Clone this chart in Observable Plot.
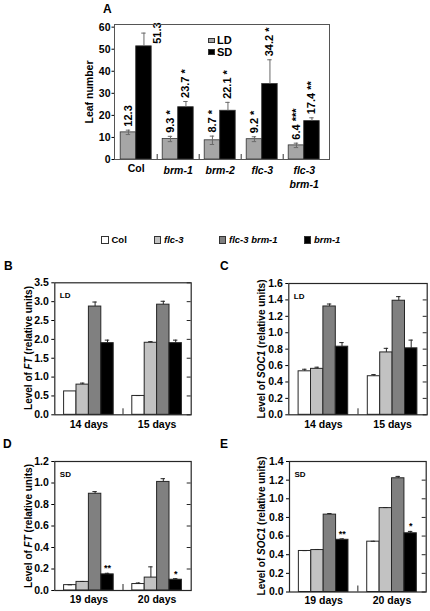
<!DOCTYPE html>
<html>
<head>
<meta charset="utf-8">
<script src="https://cdn.jsdelivr.net/npm/d3@7"></script>
<script src="https://cdn.jsdelivr.net/npm/@observablehq/plot@0.6"></script>
<style>
  html, body { margin: 0; padding: 0; background: #fff; }
  #root { position: relative; width: 430px; height: 611px; overflow: hidden;
          font-family: "Liberation Sans", Arial, sans-serif; font-weight: bold; color: #000; }
  #root svg { position: absolute; left: 0; top: 0; }
  .t { position: absolute; white-space: nowrap; line-height: 1; }
  .rot { position: absolute; white-space: nowrap; line-height: 1; transform: translate(-50%, -50%) rotate(-90deg); }
  .sw { position: absolute; box-sizing: border-box; border: 1px solid #333; }
</style>
</head>
<body>
<div id="root"></div>
<script>
// ---------------- Panel A data ----------------
const genotypes = ["Col", "brm-1", "brm-2", "flc-3", "flc-3\nbrm-1"];
const seriesA = ["LD", "SD"];
const ldLeaf = [12.3, 9.3, 8.7, 9.2, 6.4];
const ldErr = [1.0, 1.2, 1.9, 1.1, 1.0];
const ldStars = ["", "*", "*", "*", "***"];
const sdLeaf = [51.3, 23.7, 22.1, 34.2, 17.4];
const sdErr = [6.0, 2.6, 3.8, 11.0, 1.5];
const sdStars = ["", "*", "*", "*", "**"];
const leafTicks = [0, 10, 20, 30, 40, 50, 60];

// ---------------- Panels B-E data ----------------
const lines = ["Col", "flc-3", "flc-3 brm-1", "brm-1"];
const lineFills = ["#ffffff", "#c2c2c2", "#808080", "#000000"];

const ldDays = ["14 days", "15 days"];
const sdDays = ["19 days", "20 days"];

// B: FT, long days
const ftLd14 = [0.62, 0.80, 2.87, 1.90];
const ftLd14Err = [0.0, 0.04, 0.12, 0.08];
const ftLd15 = [0.50, 1.91, 2.92, 1.90];
const ftLd15Err = [0.01, 0.03, 0.09, 0.08];
const ftLdTicks = [0, 0.5, 1.0, 1.5, 2.0, 2.5, 3.0, 3.5];

// C: SOC1, long days
const socLd14 = [0.53, 0.56, 1.32, 0.83];
const socLd14Err = [0.025, 0.02, 0.03, 0.05];
const socLd15 = [0.47, 0.76, 1.39, 0.81];
const socLd15Err = [0.02, 0.05, 0.05, 0.10];
const socLdTicks = [0, 0.2, 0.4, 0.6, 0.8, 1.0, 1.2, 1.4, 1.6];

// D: FT, short days
const ftSd19 = [0.05, 0.08, 0.90, 0.15];
const ftSd19Err = [0.003, 0.004, 0.02, 0.01];
const ftSd20 = [0.06, 0.12, 1.01, 0.10];
const ftSd20Err = [0.01, 0.10, 0.03, 0.01];
const ftSdTicks = [0, 0.2, 0.4, 0.6, 0.8, 1.0, 1.2];

// E: SOC1, short days
const socSd19 = [0.44, 0.45, 0.83, 0.56];
const socSd19Err = [0.004, 0.006, 0.012, 0.01];
const socSd20 = [0.54, 0.90, 1.22, 0.63];
const socSd20Err = [0.004, 0.006, 0.02, 0.02];
const socSdTicks = [0, 0.2, 0.4, 0.6, 0.8, 1.0, 1.2, 1.4];

const sdStarsFirst = ["", "", "", "**"];
const sdStarsSecond = ["", "", "", "*"];
const noStars = ["", "", "", ""];

// ---------------- helpers ----------------
const W = 430, H = 611;
const root = document.getElementById("root");
const baseStyle = {
  background: "transparent",
  fontFamily: '"Liberation Sans", Arial, sans-serif',
  fontWeight: "bold",
  fontSize: "10.5px",
  color: "#000",
  overflow: "visible"
};
const INK = "#262626";

function addText(html, x, cy, size, extra) {
  const d = document.createElement("div");
  d.className = "t";
  d.style.left = x + "px";
  d.style.top = (cy - 0.49 * size) + "px";
  d.style.fontSize = size + "px";
  if (extra) Object.assign(d.style, extra);
  d.innerHTML = html;
  root.appendChild(d);
}
function addRot(html, cx, cy, size) {
  const d = document.createElement("div");
  d.className = "rot";
  d.style.left = cx + "px";
  d.style.top = cy + "px";
  d.style.fontSize = size + "px";
  d.innerHTML = html;
  root.appendChild(d);
}
function addSwatch(x, y, w, h, fill) {
  const d = document.createElement("div");
  d.className = "sw";
  d.style.left = x + "px"; d.style.top = y + "px";
  d.style.width = w + "px"; d.style.height = h + "px";
  d.style.background = fill;
  root.appendChild(d);
}

// ---------------- Panel A ----------------
(function () {
  const L = 114, R = 329, T = 24, B = 159;
  const yMax = 61.2;
  const groupPx = 42;
  const bw = 15.5 / groupPx;
  const cap = 2.2 / groupPx;
  const upx = yMax / (B - T);
  const rows = genotypes.flatMap((g, i) => [
    {i, series: seriesA[0], v: ldLeaf[i], e: ldErr[i], s: ldStars[i]},
    {i, series: seriesA[1], v: sdLeaf[i], e: sdErr[i], s: sdStars[i]}
  ]);
  const isLD = d => d.series === seriesA[0];
  const x1 = d => isLD(d) ? d.i - bw : d.i;
  const cx = d => isLD(d) ? d.i - bw / 2 : d.i + bw / 2;
  const lab = d => d.v.toFixed(1) + (d.s ? " " + d.s : "");
  const fits = d => d.v + d.e <= 55;
  const bounds = d3.range(genotypes.length - 1).map(i => i + 0.5);

  const svg = Plot.plot({
    width: W, height: H,
    marginLeft: L, marginRight: W - R, marginTop: T, marginBottom: H - B,
    x: {domain: [-0.5, genotypes.length - 0.5], range: [114.7, 114.7 + groupPx * genotypes.length], axis: null},
    y: {domain: [0, yMax], axis: null, label: null},
    color: {domain: seriesA, range: ["#a6a6a6", "#000000"]},
    style: baseStyle,
    marks: [
      Plot.rectY(rows, {x1, x2: d => x1(d) + bw, y1: 0, y2: "v", fill: "series", stroke: "#333", strokeWidth: 0.8}),
      Plot.ruleX(rows, {x: cx, y1: d => isLD(d) ? d.v - d.e : d.v, y2: d => d.v + d.e, stroke: "#6a6a6a"}),
      Plot.ruleY(rows, {y: d => d.v + d.e, x1: d => cx(d) - cap, x2: d => cx(d) + cap, stroke: "#6a6a6a"}),
      Plot.ruleY(rows.filter(isLD), {y: d => d.v - d.e, x1: d => cx(d) - cap, x2: d => cx(d) + cap, stroke: "#6a6a6a"}),
      Plot.text(rows.filter(fits), {x: cx, y: d => d.v + d.e, text: lab, rotate: -90, textAnchor: "start", dy: -3.5, fontSize: 11}),
      Plot.text(rows.filter(d => !fits(d)), {x: cx, y: "v", text: lab, rotate: -90, textAnchor: "start", dx: 13.5, dy: -2.5, fontSize: 11}),
      Plot.ruleX(bounds, {x: d => d, y1: 0, y2: 5 * upx, stroke: "#333"}),
      Plot.axisY({ticks: leafTicks, tickFormat: d3.format("d"), tickSize: 2.5, tickPadding: 1.5, fontSize: 10.5, label: null}),
      Plot.text(genotypes, {filter: d => d === "Col", x: (d, i) => i, text: d => d, frameAnchor: "bottom", lineAnchor: "top", dy: 5, fontSize: 10.5}),
      Plot.text(genotypes, {filter: d => d !== "Col", x: (d, i) => i, text: d => d, frameAnchor: "bottom", lineAnchor: "top", dy: 5, fontSize: 10.5, fontStyle: "italic", lineHeight: 1.3}),
      Plot.frame({stroke: "#555", strokeWidth: 1})
    ]
  });
  root.appendChild(svg);

  addText("A", 103, 8.5, 12);
  addRot("Leaf number", 89, 92, 10.5);
  // A legend
  addSwatch(208, 37.5, 7, 5.5, "#a6a6a6");
  addText(seriesA[0], 217, 40.2, 11);
  addSwatch(208, 49.3, 7, 5.5, "#000000");
  addText(seriesA[1], 217, 52.2, 11);
})();

// ---------------- Legend row ----------------
(function () {
  const swX = [101, 153.5, 218.5, 303.5];
  lines.forEach((name, k) => {
    addSwatch(swX[k], 235.5, 7.5, 8.5, lineFills[k]);
    addText(name, swX[k] + 10.5, 240, 9.5, k === 0 ? null : {fontStyle: "italic"});
  });
})();

// ---------------- Panels B-E ----------------
function exprPanel(o) {
  const [L, R, T, B] = o.frame;
  const unit = (R - L) / 2;          // px per group
  const bw = 12.4 / unit;
  const cap = 2.2 / unit;
  const upx = o.ymax / (B - T);
  const rows = [];
  o.values.forEach((vals, g) => vals.forEach((v, k) => rows.push({
    g, k, line: lines[k], v, e: o.errs[g][k], s: o.stars[g][k]
  })));
  const cx = d => d.g + (d.k - 1.5) * bw;
  const svg = Plot.plot({
    width: W, height: H,
    marginLeft: L, marginRight: W - R, marginTop: T, marginBottom: H - B,
    x: {domain: [-0.5, 1.5], axis: null},
    y: {domain: [0, o.ymax], axis: null, label: null},
    color: {domain: lines, range: lineFills},
    style: baseStyle,
    marks: [
      Plot.rectY(rows, {x1: d => d.g + (d.k - 2) * bw, x2: d => d.g + (d.k - 1) * bw, y1: 0, y2: "v", fill: "line", stroke: INK, strokeWidth: 1}),
      Plot.ruleX(rows.filter(d => d.e > 0), {x: cx, y1: "v", y2: d => d.v + d.e, stroke: INK}),
      Plot.ruleY(rows.filter(d => d.e > 0), {y: d => d.v + d.e, x1: d => cx(d) - cap, x2: d => cx(d) + cap, stroke: INK}),
      Plot.text(rows.filter(d => d.s), {x: cx, y: d => d.v + d.e, text: "s", dy: -5, fontSize: 9}),
      Plot.axisY({ticks: o.ticks, tickFormat: d3.format(".1f"), tickSize: 3, tickPadding: 3, fontSize: 10.5, label: null}),
      Plot.ruleY(o.ticks, {y: d => d, x1: 1.5 - 4 / unit, x2: 1.5, stroke: INK}),
      Plot.ruleX([0.5], {x: d => d, y1: 0, y2: 6 * upx, stroke: INK}),
      Plot.text(o.days, {x: (d, i) => i, text: d => d, frameAnchor: "bottom", dy: o.dayDy, fontSize: 10.5}),
      Plot.text([o.cond], {text: d => d, frameAnchor: "top-left", textAnchor: "start", dx: 5, dy: 9.5, fontSize: 8}),
      Plot.frame({stroke: INK, strokeWidth: 1.2})
    ]
  });
  root.appendChild(svg);
  addText(o.letter, o.letterX, o.letterY, 12);
  addRot(o.title, o.titleX, (T + B) / 2, 10);
}

exprPanel({
  frame: [54.3, 190.7, 282.3, 414.3], ymax: 3.5, ticks: ftLdTicks,
  days: ldDays, values: [ftLd14, ftLd15], errs: [ftLd14Err, ftLd15Err], stars: [noStars, noStars],
  cond: "LD", dayDy: 13, letter: "B", letterX: 4, letterY: 265.5,
  title: "Level of <i>FT</i> (relative units)", titleX: 28.5
});
exprPanel({
  frame: [288.3, 426.7, 283, 414.3], ymax: 1.6, ticks: socLdTicks,
  days: ldDays, values: [socLd14, socLd15], errs: [socLd14Err, socLd15Err], stars: [noStars, noStars],
  cond: "LD", dayDy: 13, letter: "C", letterX: 220, letterY: 265.5,
  title: "Level of <i>SOC1</i> (relative units)", titleX: 262
});
exprPanel({
  frame: [54.3, 190.7, 461, 590], ymax: 1.2, ticks: ftSdTicks,
  days: sdDays, values: [ftSd19, ftSd20], errs: [ftSd19Err, ftSd20Err], stars: [sdStarsFirst, sdStarsSecond],
  cond: "SD", dayDy: 12.5, letter: "D", letterX: 3, letterY: 444,
  title: "Level of <i>FT</i> (relative units)", titleX: 28.5
});
exprPanel({
  frame: [289, 425.7, 461, 591.5], ymax: 1.4, ticks: socSdTicks,
  days: sdDays, values: [socSd19, socSd20], errs: [socSd19Err, socSd20Err], stars: [sdStarsFirst, sdStarsSecond],
  cond: "SD", dayDy: 11.5, letter: "E", letterX: 220, letterY: 444,
  title: "Level of <i>SOC1</i> (relative units)", titleX: 262
});
</script>
</body>
</html>
